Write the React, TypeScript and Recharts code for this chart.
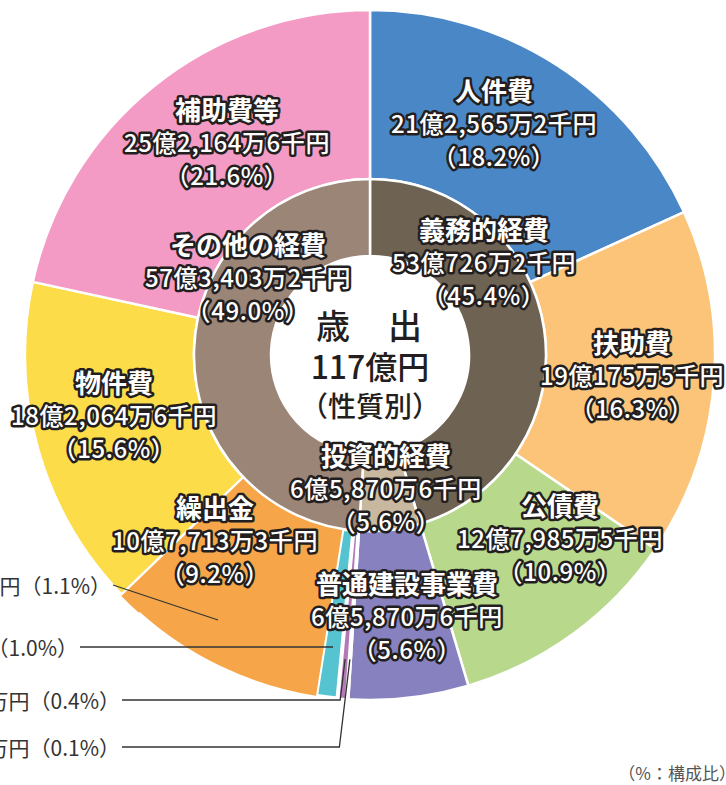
import { PieChart, Pie, Cell } from "recharts";

// 外側：性質別内訳（構成比 %）
const outerNames = [
  "人件費",
  "扶助費",
  "公債費",
  "普通建設事業費",
  "投資及び出資金",
  "貸付金",
  "維持補修費",
  "繰出金",
  "積立金",
  "物件費",
  "補助費等",
];
const outerAmounts = [
  "21億2,565万2千円",
  "19億175万5千円",
  "12億7,985万5千円",
  "6億5,870万6千円",
  "万円",
  "万円",
  "円",
  "10億7,713万3千円",
  "千円",
  "18億2,064万6千円",
  "25億2,164万6千円",
];
const outerShares = [18.2, 16.3, 10.9, 5.6, 0.1, 0.4, 1.0, 9.2, 1.1, 15.6, 21.6];
const outerColors = [
  "#4a87c7",
  "#fcc478",
  "#b8d98b",
  "#8781bf",
  "#f4977b",
  "#b27ab7",
  "#55c4d0",
  "#f6a648",
  "#f6a648",
  "#fddc4a",
  "#f39bc4",
];

// 内側：義務的 / 投資的 / その他
const innerNames = ["義務的経費", "投資的経費", "その他の経費"];
const innerAmounts = ["53億726万2千円", "6億5,870万6千円", "57億3,403万2千円"];
const innerShares = [45.4, 5.6, 49.0];
const innerColors = ["#6e6253", "#c8b8a0", "#9a8577"];

const outerData = outerNames.map((name, i) => ({
  name,
  amount: outerAmounts[i],
  value: outerShares[i],
}));
const innerData = innerNames.map((name, i) => ({
  name,
  amount: innerAmounts[i],
  value: innerShares[i],
}));

// label anchor offsets from the pie centre (middle line)
const labelPos: Record<string, [number, number]> = {
  人件費: [124, -233],
  扶助費: [262, 19],
  公債費: [190, 182],
  普通建設事業費: [37, 260],
  繰出金: [-155, 184],
  物件費: [-256, 59],
  補助費等: [-143, -214],
  義務的経費: [114, -94],
  投資的経費: [16, 132],
  その他の経費: [-122, -79],
};

// small slices labelled outside on the left
const callouts: Record<string, { tx: number; ty: number; r: number; fixed?: [number, number]; elbow?: boolean }> = {
  積立金: { tx: -259, ty: 230, r: 0, fixed: [-152, 265] },
  維持補修費: { tx: -292, ty: 292, r: 295 },
  貸付金: { tx: -250, ty: 345, r: 305, elbow: true },
  投資及び出資金: { tx: -250, ty: 392, r: 305, elbow: true },
};

const RAD = Math.PI / 180;
const font = '"Noto Sans CJK JP", "Noto Sans", sans-serif';
const outline = {
  fill: "#fff",
  stroke: "#231f20",
  strokeWidth: 5,
  strokeLinejoin: "round" as const,
  paintOrder: "stroke" as const,
};

function renderLabel(props: any) {
  const { cx, cy, midAngle, payload, index } = props;
  const name = payload.name as string;
  const pct = `（${Number(payload.value).toFixed(1)}%）`;
  const extra =
    name === "義務的経費" ? (
      <g fontFamily={font} fill="#231f20" textAnchor="middle" fontWeight={500}>
        <text x={cx} y={cy - 31} dominantBaseline="central" fontSize={34} letterSpacing={2}>
          歳　出
        </text>
        <text x={cx} y={cy + 10} dominantBaseline="central" fontSize={32}>
          117億円
        </text>
        <text x={cx} y={cy + 50} dominantBaseline="central" fontSize={28}>
          （性質別）
        </text>
      </g>
    ) : name === "人件費" ? (
      <text x={cx + 366} y={cy + 417} textAnchor="end" dominantBaseline="central" fontSize={17} fill="#555" fontFamily={font}>
        （%：構成比）
      </text>
    ) : null;
  const pos = labelPos[name];
  if (pos) {
    const x = cx + pos[0];
    const y = cy + pos[1];
    return (
      <g key={`lbl-${name}`} fontFamily={font}>
        {extra}
        <text x={x} y={y - 33} textAnchor="middle" dominantBaseline="central" fontSize={26} fontWeight={700} style={outline}>
          {name}
        </text>
        <text x={x} y={y} textAnchor="middle" dominantBaseline="central" fontSize={24} fontWeight={500} letterSpacing={0.6} style={outline}>
          {payload.amount}
        </text>
        <text x={x} y={y + 33} textAnchor="middle" dominantBaseline="central" fontSize={24} fontWeight={500} letterSpacing={0.6} style={outline}>
          {pct}
        </text>
      </g>
    );
  }
  const c = callouts[name];
  if (!c) return <g key={`lbl-${index}`} />;
  const tx = cx + c.tx;
  const ty = cy + c.ty;
  let ex: number;
  let ey: number;
  if (c.fixed) {
    ex = cx + c.fixed[0];
    ey = cy + c.fixed[1];
  } else {
    ex = cx + Math.cos(-midAngle * RAD) * c.r;
    ey = cy + Math.sin(-midAngle * RAD) * c.r;
  }
  const sx = tx + 2;
  const pts = c.elbow
    ? `${sx},${ty} ${ex - (ty - ey) * 0.12},${ty} ${ex},${ey}`
    : c.fixed
    ? `${sx},${ty} ${ex},${ey}`
    : `${sx},${ty} ${ex},${ty}`;
  return (
    <g key={`lbl-${name}`}>
      <polyline points={pts} fill="none" stroke="#333" strokeWidth={1.3} />
      <text x={tx} y={ty} textAnchor="end" dominantBaseline="central" fontSize={21} fill="#333" fontFamily={font}>
        {payload.amount}
        {pct}
      </text>
    </g>
  );
}

export default function App() {
  return (
    <div style={{ position: "absolute", left: 0, top: 0, width: 726, height: 785, background: "#fff" }}>
      <PieChart width={726} height={785} margin={{ top: 0, right: 0, bottom: 0, left: 0 }}>
        <Pie
          data={outerData}
          dataKey="value"
          nameKey="name"
          cx={370}
          cy={355}
          innerRadius={176}
          outerRadius={345}
          startAngle={90}
          endAngle={-270}
          stroke="#fff"
          strokeWidth={2.5}
          label={renderLabel}
          labelLine={false}
          isAnimationActive={false}
        >
          {outerData.map((d, i) => (
            <Cell
              key={d.name}
              fill={outerColors[i]}
              stroke={d.name === "繰出金" ? "none" : d.name === "積立金" ? outerColors[i] : "#fff"}
              strokeWidth={d.name === "維持補修費" ? 4 : 2.5}
            />
          ))}
        </Pie>
        <Pie
          data={innerData}
          dataKey="value"
          nameKey="name"
          cx={370}
          cy={355}
          innerRadius={99}
          outerRadius={176}
          startAngle={90}
          endAngle={-270}
          stroke="#fff"
          strokeWidth={2.5}
          label={renderLabel}
          labelLine={false}
          isAnimationActive={false}
        >
          {innerData.map((d, i) => (
            <Cell key={d.name} fill={innerColors[i]} />
          ))}
        </Pie>
      </PieChart>
    </div>
  );
}
